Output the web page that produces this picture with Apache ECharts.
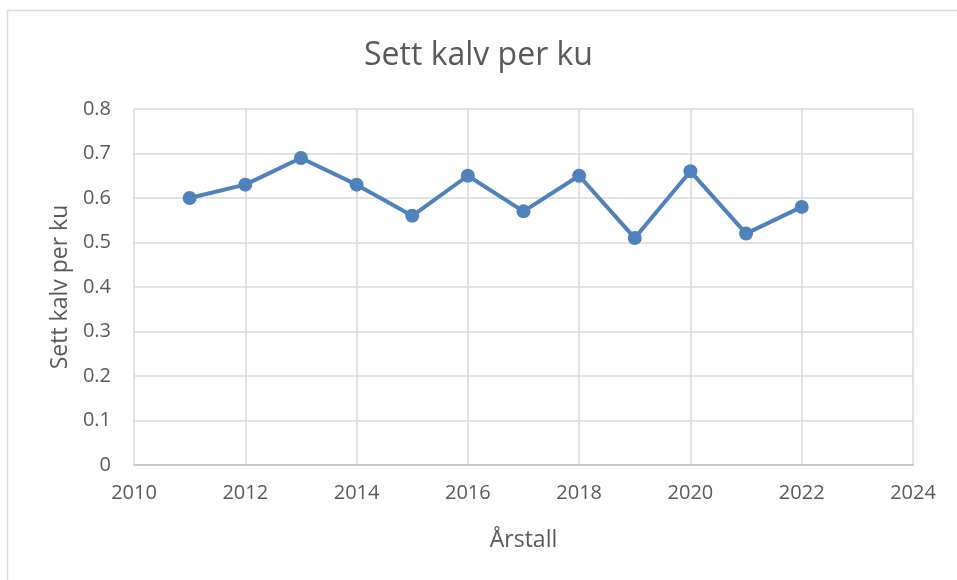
<!DOCTYPE html>
<html>
<head>
<meta charset="utf-8">
<script src="https://cdn.jsdelivr.net/npm/echarts@6/dist/echarts.min.js"></script>
<style>
  html, body { margin: 0; padding: 0; background: #fff; }
  #chart { width: 957px; height: 580px; }
</style>
</head>
<body>
<div id="chart"></div>
<script>
  // år og verdier lest av figuren
  const years = [2011, 2012, 2013, 2014, 2015, 2016, 2017, 2018, 2019, 2020, 2021, 2022];
  const calvesPerCow = [0.60, 0.63, 0.69, 0.63, 0.56, 0.65, 0.57, 0.65, 0.51, 0.66, 0.52, 0.58];

  const chart = echarts.init(document.getElementById('chart'));
  const textColor = '#595959';
  const font = 'Open Sans';

  const option = {
    animation: false,
    textStyle: { fontFamily: font },
    title: {
      text: 'Sett kalv per ku',
      left: 'center',
      top: 35,
      textStyle: { fontFamily: font, fontSize: 32, fontWeight: 'normal', color: textColor }
    },
    graphic: [{
      type: 'rect',
      shape: { x: 7.5, y: 10.5, width: 960, height: 580 },
      style: { fill: 'none', stroke: '#d9d9d9', lineWidth: 1.5 }
    }],
    grid: { left: 134, right: 44, top: 109, bottom: 115 },
    xAxis: {
      type: 'value',
      min: 2010, max: 2024, interval: 2,
      name: 'Årstall',
      nameLocation: 'middle',
      nameGap: 64,
      nameTextStyle: { fontSize: 23, color: textColor, fontFamily: font },
      axisLine: { show: true, lineStyle: { color: '#bfbfbf', width: 1.5 } },
      axisTick: { show: false },
      axisLabel: { fontSize: 20, color: textColor, margin: 18, fontFamily: font, formatter: v => String(v) },
      splitLine: { show: true, lineStyle: { color: '#d9d9d9', width: 1.5 } }
    },
    yAxis: {
      type: 'value',
      min: 0, max: 0.8, interval: 0.1,
      name: 'Sett kalv per ku',
      nameLocation: 'middle',
      nameGap: 60,
      nameTextStyle: { fontSize: 23, color: textColor, fontFamily: font },
      axisLine: { show: false },
      axisTick: { show: false },
      axisLabel: { fontSize: 20, color: textColor, margin: 23, fontFamily: font },
      splitLine: { show: true, lineStyle: { color: '#d9d9d9', width: 1.5 } }
    },
    series: [{
      type: 'line',
      data: years.map((y, i) => [y, calvesPerCow[i]]),
      symbol: 'circle',
      symbolSize: 14,
      lineStyle: { color: '#4f81bd', width: 4 },
      itemStyle: { color: '#4f81bd' }
    }]
  };

  chart.setOption(option);
</script>
</body>
</html>
